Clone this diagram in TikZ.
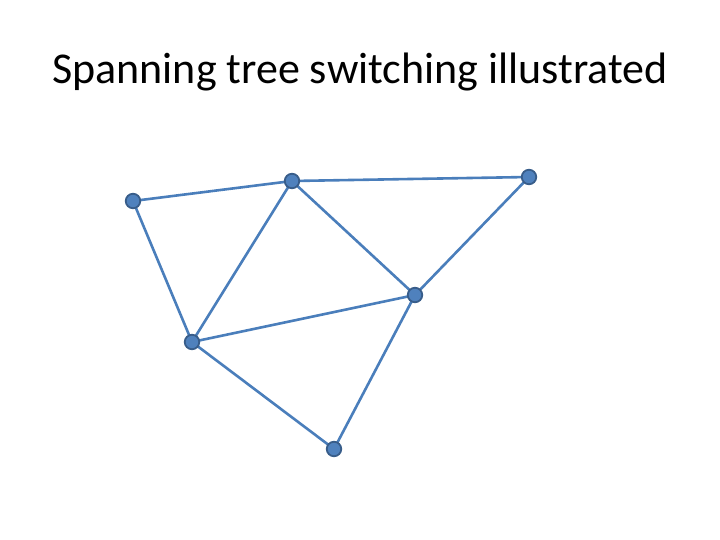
\documentclass[tikz,border=0pt]{standalone}
\usepackage{fontspec}
\setmainfont{Carlito}
\definecolor{nodefill}{HTML}{4F81BD}
\definecolor{nodeline}{HTML}{385D8A}
\definecolor{edgecol}{HTML}{4A7EBB}
\begin{document}
\begin{tikzpicture}[x=1pt,y=-1pt,
  vtx/.style={circle,fill=nodefill,draw=nodeline,line width=1.8pt,minimum size=14.5pt,inner sep=0pt},
  edge/.style={draw=edgecol,line width=2.6pt}]
\useasboundingbox (0,0) rectangle (720,540);
\node[anchor=base,font=\fontsize{44}{52}\selectfont] (title) at (360,84) {Spanning tree switching illustrated};
\path
  (133,201) coordinate (a)
  (292,181) coordinate (b)
  (529,177) coordinate (c)
  (415,295) coordinate (d)
  (192,342) coordinate (e)
  (334,449) coordinate (f);
\draw[edge] (a) -- (b);
\draw[edge] (b) -- (c);
\draw[edge] (a) -- (e);
\draw[edge] (b) -- (e);
\draw[edge] (b) -- (d);
\draw[edge] (c) -- (d);
\draw[edge] (e) -- (d);
\draw[edge] (e) -- (f);
\draw[edge] (d) -- (f);
\node[vtx] (na) at (a) {};
\node[vtx] (nb) at (b) {};
\node[vtx] (nc) at (c) {};
\node[vtx] (nd) at (d) {};
\node[vtx] (ne) at (e) {};
\node[vtx] (nf) at (f) {};
\end{tikzpicture}
\end{document}
